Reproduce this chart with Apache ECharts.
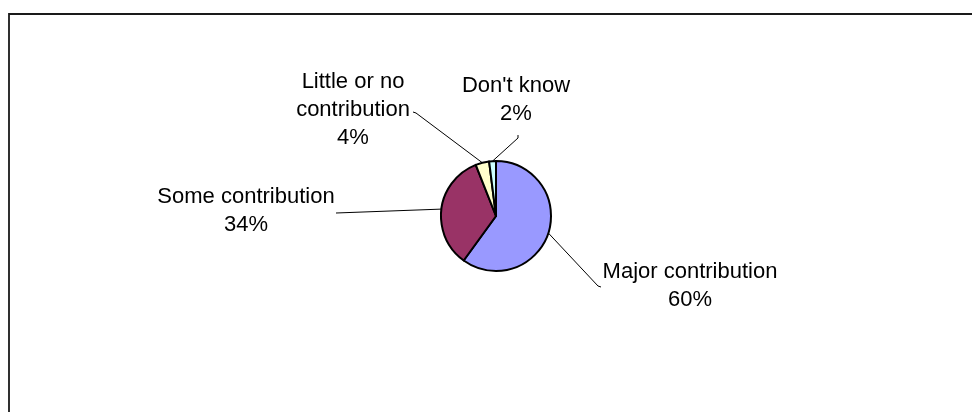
<!DOCTYPE html>
<html>
<head>
<meta charset="utf-8">
<script src="https://cdn.jsdelivr.net/npm/echarts@6/dist/echarts.min.js"></script>
<style>
  html, body { margin: 0; padding: 0; background: #ffffff; }
  #chart { width: 972px; height: 412px; }
</style>
</head>
<body>
<div id="chart"></div>
<script>
// Survey answers and their shares (percent)
const categories = ['Major contribution', 'Some contribution', 'Little or no\ncontribution', "Don't know"];
const shares = [60, 34, 4, 2];
const sliceColors = ['#9999FF', '#993366', '#FFFFCC', '#CCFFFF'];

// Where each label block sits (centre), and the bend of its leader line
const labelSpots = [
  { x: 690, y: 286, bend: [[598, 286], [601, 287]] },
  { x: 246, y: 211, bend: [[336, 213]] },
  { x: 353, y: 110, bend: [[416, 113], [413, 112]] },
  { x: 516, y: 100, bend: [[518, 138], [518, 135]] }
];

const chart = echarts.init(document.getElementById('chart'), null, { renderer: 'canvas' });

chart.setOption({
  backgroundColor: '#ffffff',
  animation: false,
  graphic: [
    {
      type: 'polyline',
      shape: { points: [[9, 412], [9, 14], [972, 14]] },
      style: { stroke: '#1a1a1a', lineWidth: 1.8, fill: null }
    }
  ],
  series: [
    {
      type: 'pie',
      center: [496, 216],
      radius: 55,
      startAngle: 90,
      clockwise: true,
      avoidLabelOverlap: false,
      data: categories.map((name, i) => ({
        name: name,
        value: shares[i],
        itemStyle: { color: sliceColors[i] }
      })),
      itemStyle: { borderColor: '#000000', borderWidth: 2 },
      label: {
        show: true,
        formatter: (p) => p.name + '\n' + p.value + '%',
        fontFamily: 'Liberation Sans, Arial, sans-serif',
        fontSize: 22,
        lineHeight: 28,
        color: '#000000',
        align: 'center'
      },
      labelLine: {
        show: true,
        lineStyle: { color: '#000000', width: 1 }
      },
      emphasis: { disabled: true },
      labelLayout: function (params) {
        const spot = labelSpots[params.dataIndex];
        const anchor = params.labelLinePoints ? params.labelLinePoints[0] : null;
        const out = {
          x: spot.x,
          y: spot.y,
          align: 'center',
          verticalAlign: 'middle'
        };
        if (anchor) {
          out.labelLinePoints = [anchor].concat(spot.bend);
        }
        return out;
      }
    }
  ]
});
</script>
</body>
</html>
